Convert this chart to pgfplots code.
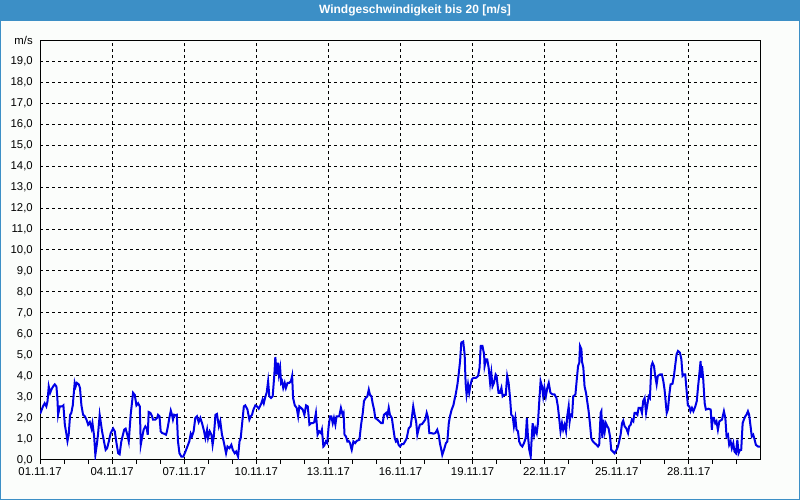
\documentclass[border=0pt]{standalone}
\usepackage{pgfplots}
\pgfplotsset{compat=1.18}
\usepackage{fontspec}
\setmainfont{Liberation Sans}
\definecolor{barblue}{RGB}{60,143,198}
\definecolor{lineblue}{RGB}{0,0,230}
\definecolor{bg}{RGB}{251,253,251}
\begin{document}
\begin{tikzpicture}[x=0.75pt,y=0.75pt]
\fill[bg] (0,0) rectangle (800,500);
\fill[barblue] (0,480) rectangle (800,500);
\draw[barblue, line width=0.75pt] (0.4,0.4) rectangle (799.6,480);
\node[white, font=\bfseries\fontsize{9}{10}\selectfont] at (415,490) {Windgeschwindigkeit bis 20 [m/s]};
\begin{axis}[
  at={(30pt,30pt)}, anchor=south west, scale only axis,
  width=540.75pt, height=315pt,
  xmin=0, xmax=30, ymin=0, ymax=20,
  axis line style={black, line width=0.75pt},
  xtick={0,3,...,27},
  xticklabels={01.11.17,04.11.17,07.11.17,10.11.17,13.11.17,16.11.17,19.11.17,22.11.17,25.11.17,28.11.17},
  minor xtick={1,2,4,5,7,8,10,11,13,14,16,17,19,20,22,23,25,26,28,29},
  ytick={0,1,...,20},
  yticklabels={{0,0},{1,0},{2,0},{3,0},{4,0},{5,0},{6,0},{7,0},{8,0},{9,0},{10,0},{11,0},{12,0},{13,0},{14,0},{15,0},{16,0},{17,0},{18,0},{19,0},{m/s}},
  xtick pos=bottom, ytick pos=left,
  tick align=outside,
  x tick style={black, line width=0.75pt},
  major tick length=3pt, minor tick length=3pt,
  y tick style={draw=none},
  grid=major,
  major grid style={black, line width=0.75pt, dash pattern=on 2.25pt off 2.25pt},
  tick label style={font=\fontsize{8.5}{10}\selectfont, text=black},
  xticklabel style={yshift=1pt},
  yticklabel style={xshift=1pt},
]
\addplot[lineblue, line width=1.5pt, no markers] table {
0.00 2.2
0.03 2.28
0.12 2.55
0.19 2.7
0.26 2.55
0.31 2.8
0.36 3.5
0.42 3.2
0.47 3.35
0.54 3.5
0.61 3.6
0.68 3.5
0.72 2.95
0.75 2.15
0.82 2.55
0.92 2.55
0.97 2.6
1.03 1.68
1.10 1.2
1.14 0.9
1.19 1.2
1.25 2.15
1.30 2.24
1.36 2.6
1.44 3.67
1.48 3.5
1.53 3.67
1.61 3.6
1.66 3.43
1.72 2.6
1.79 2.15
1.86 2.08
1.93 1.92
2.00 1.68
2.07 1.8
2.14 1.5
2.18 1.75
2.25 1.12
2.30 0.24
2.36 0.72
2.41 1.2
2.48 2.15
2.52 1.84
2.58 1.36
2.66 0.88
2.73 0.48
2.79 0.56
2.86 0.88
2.94 1.28
3.04 1.5
3.11 1.36
3.18 0.8
3.25 0.32
3.31 0.27
3.38 0.88
3.50 1.44
3.56 1.49
3.63 1.2
3.69 0.88
3.77 2.15
3.87 3.2
3.94 3.1
4.01 2.6
4.08 2.7
4.15 2.55
4.19 0.72
4.24 1.04
4.31 1.44
4.38 1.6
4.44 1.5
4.48 1.2
4.52 2.28
4.59 2.24
4.66 2.08
4.70 1.92
4.80 1.92
4.87 2.0
4.91 2.15
4.97 2.08
5.02 1.36
5.08 1.28
5.16 1.25
5.24 1.2
5.28 1.36
5.32 1.6
5.38 2.0
5.44 2.35
5.49 2.15
5.53 1.92
5.58 2.15
5.63 2.12
5.69 2.15
5.74 0.88
5.80 0.32
5.88 0.16
5.96 0.16
6.05 0.4
6.13 0.64
6.21 0.88
6.27 1.25
6.32 1.12
6.39 1.36
6.46 2.0
6.53 2.08
6.60 1.8
6.67 2.0
6.74 1.75
6.81 1.44
6.88 1.04
6.95 1.44
6.99 1.04
7.06 1.36
7.13 1.2
7.18 0.72
7.23 1.12
7.30 2.15
7.36 2.19
7.44 1.6
7.50 1.84
7.57 1.2
7.64 0.88
7.74 0.32
7.80 0.64
7.88 0.56
7.96 0.72
8.02 0.48
8.10 0.32
8.16 0.4
8.24 0.16
8.30 0.88
8.35 1.04
8.41 1.75
8.48 2.55
8.54 2.6
8.63 2.4
8.71 1.92
8.77 2.08
8.82 2.15
8.88 2.4
8.96 2.6
9.03 2.55
9.10 2.44
9.15 2.55
9.21 2.7
9.26 2.88
9.31 2.7
9.38 3.03
9.43 3.2
9.49 3.75
9.54 3.03
9.61 2.95
9.68 3.03
9.75 4.07
9.79 4.9
9.85 4.07
9.90 4.63
9.94 4.07
9.99 4.39
10.03 3.67
10.07 3.75
10.12 3.43
10.18 3.67
10.23 3.43
10.30 3.67
10.37 3.67
10.44 3.75
10.49 4.0
10.53 2.95
10.60 2.6
10.68 2.48
10.74 2.08
10.79 2.55
10.86 2.48
10.93 2.4
11.00 2.15
11.07 2.6
11.14 2.55
11.21 1.68
11.28 1.75
11.35 1.75
11.41 1.8
11.48 2.24
11.55 1.2
11.62 1.36
11.69 1.28
11.73 1.44
11.79 0.64
11.83 0.69
11.89 0.88
11.95 0.8
12.01 1.6
12.07 2.08
12.12 2.08
12.18 1.75
12.23 2.0
12.29 1.68
12.34 2.08
12.45 2.08
12.52 2.48
12.59 2.15
12.63 2.24
12.67 1.2
12.73 1.12
12.79 0.88
12.84 0.91
12.90 0.8
12.95 0.56
12.97 0.48
13.04 0.88
13.11 0.8
13.18 0.91
13.29 0.96
13.36 1.68
13.43 2.24
13.48 2.8
13.55 2.95
13.62 3.03
13.68 3.35
13.73 3.1
13.79 3.03
13.84 2.7
13.90 2.4
13.95 2.0
14.04 1.92
14.12 1.84
14.20 1.75
14.26 1.75
14.31 2.15
14.40 2.24
14.45 2.08
14.51 2.48
14.56 2.15
14.64 2.0
14.70 1.5
14.76 1.04
14.81 0.88
14.87 0.96
14.92 0.72
14.98 0.64
15.05 0.75
15.12 0.75
15.19 0.88
15.26 1.04
15.34 1.5
15.42 1.6
15.48 2.08
15.53 2.55
15.59 2.15
15.65 1.84
15.70 1.2
15.76 1.5
15.81 1.68
15.90 1.71
15.98 1.84
16.03 1.92
16.09 2.24
16.15 2.0
16.20 1.28
16.28 1.28
16.37 1.25
16.45 1.28
16.53 1.44
16.59 1.2
16.64 0.8
16.70 0.48
16.74 0.24
16.81 0.48
16.89 0.8
16.95 0.88
17.01 1.75
17.06 2.08
17.13 2.4
17.20 2.6
17.25 2.88
17.31 3.2
17.37 3.6
17.42 4.07
17.48 4.71
17.53 5.59
17.61 5.64
17.67 5.03
17.71 3.67
17.75 3.12
17.81 3.6
17.86 3.2
17.92 3.6
17.97 3.83
18.03 3.91
18.14 3.91
18.23 4.0
18.29 4.39
18.34 5.43
18.41 5.43
18.48 5.03
18.50 4.47
18.56 4.79
18.61 4.79
18.67 4.39
18.73 3.67
18.78 4.15
18.83 3.51
18.89 3.67
18.96 4.07
19.00 4.0
19.03 3.67
19.08 3.2
19.14 3.2
19.20 3.43
19.25 3.03
19.31 3.1
19.38 3.1
19.44 4.0
19.50 3.67
19.56 2.95
19.61 2.15
19.67 2.08
19.72 1.6
19.78 2.0
19.83 1.44
19.89 1.36
19.94 0.88
20.00 0.72
20.07 0.64
20.14 0.8
20.21 1.04
20.26 2.0
20.30 1.2
20.36 0.48
20.42 0.16
20.46 1.04
20.50 1.75
20.56 1.2
20.61 1.5
20.67 1.28
20.72 1.75
20.78 2.88
20.83 3.75
20.89 3.51
20.94 3.03
20.99 3.43
21.05 3.03
21.11 3.43
21.17 3.67
21.24 3.2
21.33 3.12
21.41 3.12
21.49 2.95
21.55 2.55
21.61 1.92
21.66 1.36
21.72 1.75
21.77 1.44
21.83 1.68
21.89 1.36
21.94 2.08
22.00 2.55
22.04 1.84
22.08 2.15
22.14 2.08
22.19 3.03
22.28 3.12
22.33 3.75
22.39 4.47
22.44 4.63
22.47 5.43
22.53 5.27
22.55 4.71
22.61 4.39
22.66 3.51
22.72 3.2
22.77 2.8
22.83 2.32
22.89 1.68
22.94 1.04
23.01 0.88
23.08 0.8
23.16 0.72
23.22 0.64
23.27 0.72
23.33 2.24
23.36 2.32
23.40 1.04
23.44 1.92
23.50 1.36
23.55 1.75
23.61 1.6
23.66 1.5
23.72 1.12
23.77 0.48
23.84 0.4
23.91 0.32
23.99 0.48
24.05 0.64
24.10 0.88
24.16 1.2
24.22 1.75
24.27 1.87
24.33 1.6
24.40 1.5
24.47 1.28
24.52 1.6
24.58 1.68
24.63 1.92
24.69 1.84
24.74 2.24
24.80 2.24
24.86 2.15
24.91 2.48
24.99 2.48
25.05 2.24
25.10 2.8
25.16 2.95
25.22 2.24
25.27 2.6
25.33 3.03
25.38 2.95
25.44 4.47
25.49 4.63
25.55 4.47
25.60 4.0
25.66 3.6
25.71 4.0
25.80 4.07
25.88 4.07
25.94 3.75
25.99 3.35
26.05 2.6
26.08 2.24
26.13 2.4
26.19 3.12
26.24 3.6
26.32 3.63
26.38 4.0
26.43 4.47
26.49 5.03
26.55 5.19
26.63 5.11
26.69 4.79
26.74 4.0
26.80 4.07
26.85 4.07
26.91 3.27
26.96 2.6
27.02 2.55
27.07 2.32
27.13 2.48
27.19 2.32
27.27 2.55
27.33 2.8
27.38 3.43
27.43 4.0
27.49 4.71
27.52 3.91
27.55 4.47
27.60 3.83
27.66 2.7
27.71 2.4
27.82 2.44
27.91 2.4
27.96 1.44
27.99 2.0
28.04 2.0
28.10 1.75
28.15 1.84
28.21 1.44
28.27 1.84
28.38 1.92
28.46 2.32
28.52 2.0
28.57 1.12
28.63 1.2
28.68 0.72
28.74 0.88
28.79 0.56
28.85 0.8
28.90 0.4
28.96 0.32
29.02 0.96
29.07 0.32
29.13 0.48
29.18 0.48
29.24 1.75
29.29 1.92
29.35 2.08
29.40 2.15
29.46 2.32
29.51 2.15
29.57 1.6
29.62 1.12
29.68 1.2
29.74 0.96
29.79 0.72
29.88 0.64
29.96 0.64
};
\end{axis}
\end{tikzpicture}
\end{document}
